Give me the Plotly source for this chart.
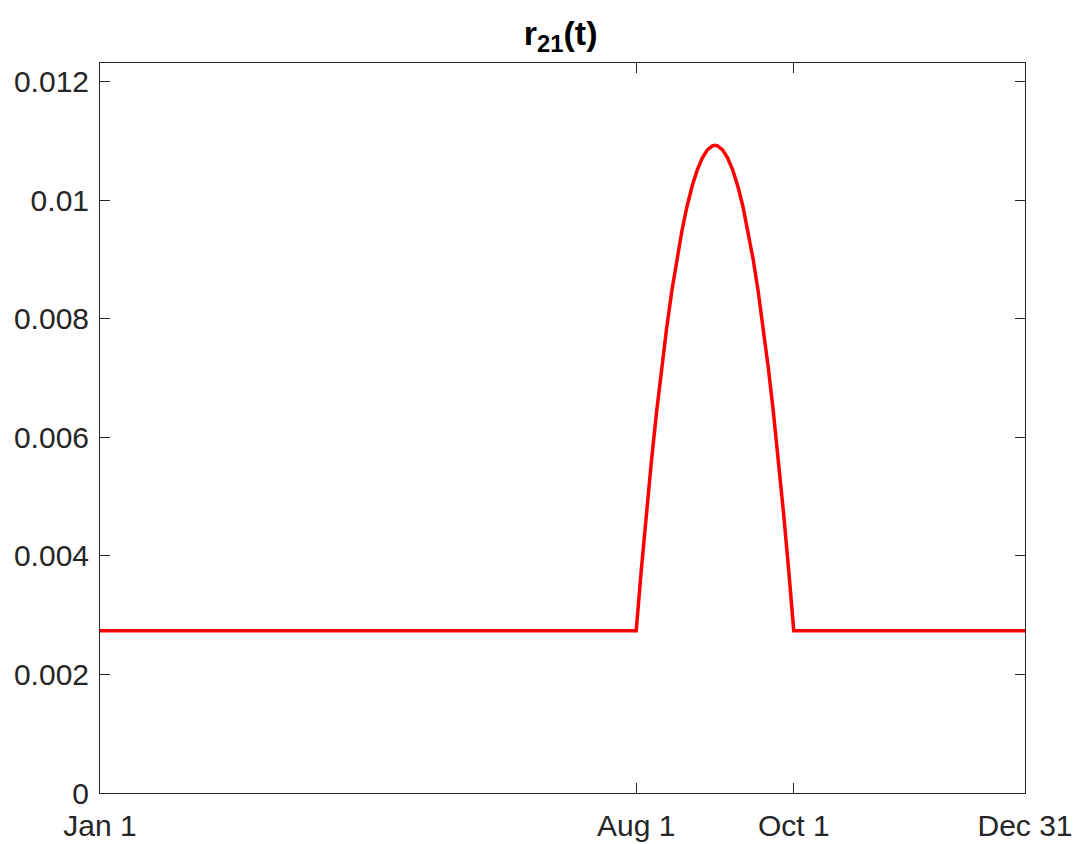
import plotly.graph_objects as go

# Day of year (Jan 1 = 1) and daily rate r_21(t)
days = [1, 212, 214, 216, 218, 220, 222, 224, 226, 228, 230, 232, 234, 236, 238,
        240, 242, 243, 244, 246, 248, 250, 252, 254, 256, 258, 260, 262, 264, 266,
        268, 270, 272, 274, 365]
rate = [0.00274, 0.00274, 0.003763, 0.004717, 0.005603, 0.006421, 0.007172,
        0.007853, 0.008467, 0.009013, 0.009489, 0.009899, 0.01024, 0.010512,
        0.010717, 0.010853, 0.010922, 0.01093, 0.010922, 0.010853, 0.010717,
        0.010512, 0.01024, 0.009899, 0.009489, 0.009013, 0.008467, 0.007853,
        0.007172, 0.006421, 0.005603, 0.004717, 0.003763, 0.00274, 0.00274]

x_tick_vals = [1, 212, 274, 365]
x_tick_text = ["Jan 1", "Aug 1", "Oct 1", "Dec 31"]
y_tick_vals = [0, 0.002, 0.004, 0.006, 0.008, 0.01, 0.012]
y_tick_text = ["0", "0.002", "0.004", "0.006", "0.008", "0.01", "0.012"]

FONT = "Liberation Sans, Arial, Helvetica, sans-serif"
INK = "#262626"

fig = go.Figure()
fig.add_trace(go.Scatter(
    x=days, y=rate, mode="lines",
    line=dict(color="#ff0000", width=3.5),
    showlegend=False, hoverinfo="skip",
))

axis_common = dict(
    showline=True, linecolor=INK, linewidth=1, mirror="ticks",
    ticks="inside", ticklen=10, tickwidth=1, tickcolor=INK,
    showgrid=False, zeroline=False, automargin=False,
    tickfont=dict(family=FONT, size=30, color=INK),
)

fig.update_layout(
    width=1074, height=844,
    margin=dict(l=100, r=49, t=63, b=51),
    paper_bgcolor="white", plot_bgcolor="white",
    title=dict(
        text="<b>r<sub>21</sub>(t)</b>",
        font=dict(family=FONT, size=34, color="#000000"),
        x=0.498, xanchor="center", xref="paper",
        y=1 - 33 / 844, yanchor="middle", yref="container",
        automargin=False,
    ),
    xaxis=dict(range=[1, 365], tickvals=x_tick_vals, ticktext=x_tick_text,
               ticklabelstandoff=6, **axis_common),
    yaxis=dict(range=[0, 0.01232], tickvals=y_tick_vals, ticktext=y_tick_text,
               ticklabelstandoff=4, **axis_common),
)

fig.write_html("out.html")
